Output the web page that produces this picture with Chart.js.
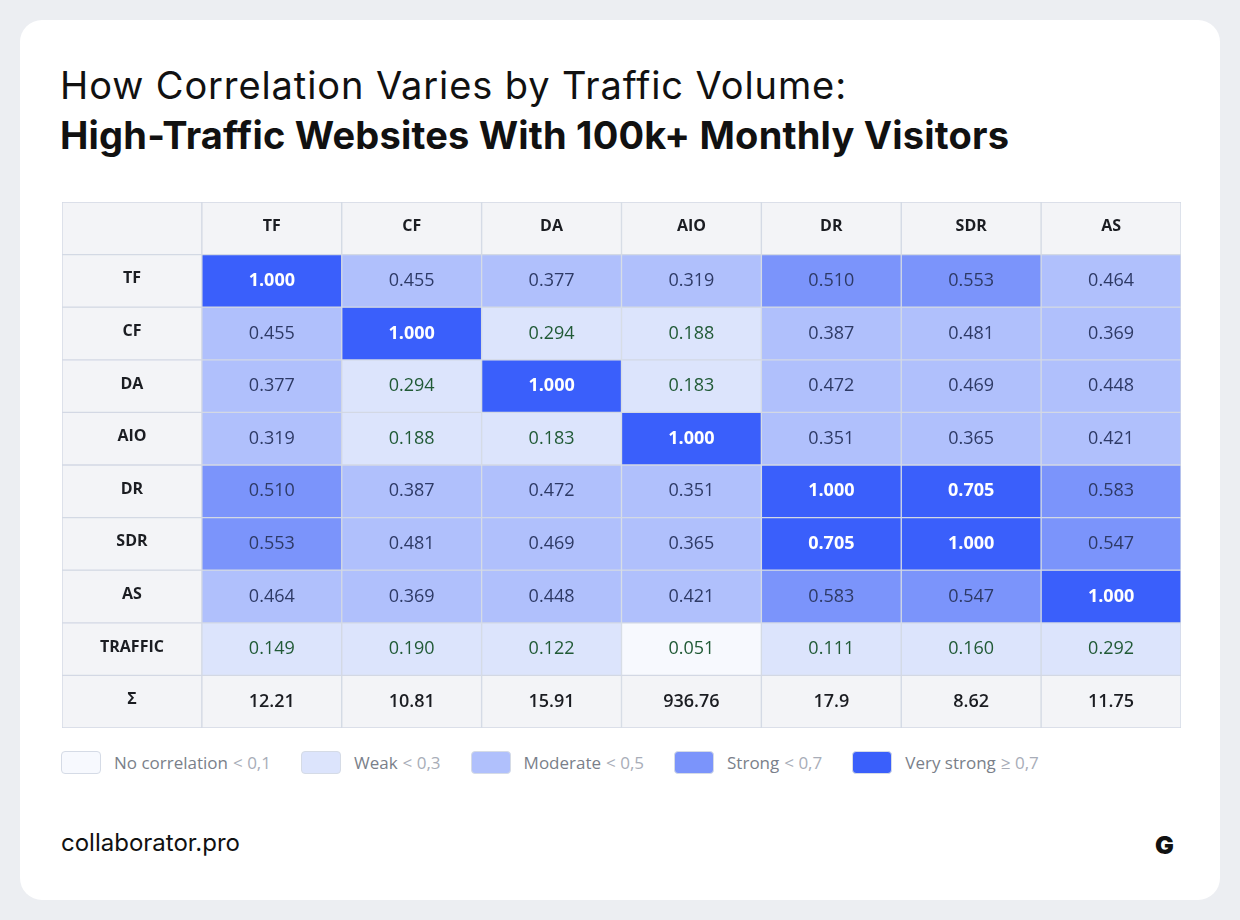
<!DOCTYPE html>
<html><head><meta charset="utf-8">
<script src="https://cdn.jsdelivr.net/npm/chart.js@4"></script>
<style>
body{margin:0;background:#eceef2;width:1240px;height:920px;overflow:hidden;font-family:"Open Sans",sans-serif}
#card{position:absolute;left:20px;top:20px;width:1200px;height:880px;background:#fff;border-radius:22px}
h1{position:absolute;left:60px;top:60px;margin:0;font:400 38px Inter,sans-serif;line-height:50px;color:#111}
h1 .a{letter-spacing:0.9px}
h1 b{font-weight:700;letter-spacing:0.2px}
#wrap{position:absolute;left:62px;top:202px;width:1119px;height:526px}
#legend{position:absolute;left:61px;top:751px;display:flex;font:17px "Open Sans",sans-serif;color:#7a7f8a}
.it{display:flex;align-items:center;margin-right:30px}
.sw{width:40px;height:23px;border-radius:4px;border:1px solid #d5dbe6;margin-right:13px;box-sizing:border-box}
.it span{color:#a8adb8;margin-left:5px}
#foot{position:absolute;left:61px;top:828px;font:400 24px Inter,sans-serif;color:#111}
#logo{position:absolute;left:1155px;top:830px;font:900 25px Inter,sans-serif;color:#111}
</style></head><body>
<div id="card"></div>
<h1><span class="a">How Correlation Varies by Traffic Volume:</span><br><b>High-Traffic Websites With 100k+ Monthly Visitors</b></h1>
<div id="wrap"><canvas id="c"></canvas></div>
<div id="legend"></div>
<div id="foot">collaborator.pro</div>
<div id="logo">G</div>
<script>
const metrics = ['TF', 'CF', 'DA', 'AIO', 'DR', 'SDR', 'AS'];
const rowLabels = ['TF', 'CF', 'DA', 'AIO', 'DR', 'SDR', 'AS', 'TRAFFIC'];
const corr = [
  [1.000, 0.455, 0.377, 0.319, 0.510, 0.553, 0.464],
  [0.455, 1.000, 0.294, 0.188, 0.387, 0.481, 0.369],
  [0.377, 0.294, 1.000, 0.183, 0.472, 0.469, 0.448],
  [0.319, 0.188, 0.183, 1.000, 0.351, 0.365, 0.421],
  [0.510, 0.387, 0.472, 0.351, 1.000, 0.705, 0.583],
  [0.553, 0.481, 0.469, 0.365, 0.705, 1.000, 0.547],
  [0.464, 0.369, 0.448, 0.421, 0.583, 0.547, 1.000],
  [0.149, 0.190, 0.122, 0.051, 0.111, 0.160, 0.292]
];
const sums = ['12.21', '10.81', '15.91', '936.76', '17.9', '8.62', '11.75'];
const levels = ['No correlation', 'Weak', 'Moderate', 'Strong', 'Very strong'];
const levelLimits = ['< 0,1', '< 0,3', '< 0,5', '< 0,7', '≥ 0,7'];
const levelColors = ['#f7f9fe', '#dce4fc', '#b0c0fc', '#7b94fb', '#3a5ffb'];
const headBg = '#f3f4f7';

function level(v){ return v < 0.1 ? 0 : v < 0.3 ? 1 : v < 0.5 ? 2 : v < 0.7 ? 3 : 4; }

// rows: header, corr rows, sum row
let rows = [];
rows.push({ texts: [''].concat(metrics), colors: Array(8).fill(headBg), kind: 'head' });
corr.forEach(function(r, i){
  rows.push({ texts: [rowLabels[i]].concat(r.map(v => v.toFixed(3))),
    colors: [headBg].concat(r.map(v => levelColors[level(v)])),
    lv: [-1].concat(r.map(level)), kind: 'corr' });
});
rows.push({ texts: ['Σ'].concat(sums), colors: Array(8).fill(headBg), kind: 'sum' });

const cols = [''].concat(metrics);
const datasets = rows.map(function(r, i){
  return {
    data: cols.map(() => [i, i + 1]),
    backgroundColor: r.colors,
    borderColor: '#d3d9e4',
    borderWidth: 1,
    borderSkipped: false,
    barPercentage: 1, categoryPercentage: 1, grouped: false,
    rowInfo: r
  };
});

const cellText = {
  id: 'cellText',
  afterDatasetsDraw(chart){
    const ctx = chart.ctx;
    ctx.save();
    ctx.textAlign = 'center'; ctx.textBaseline = 'middle';
    chart.data.datasets.forEach(function(ds, di){
      const r = ds.rowInfo;
      chart.getDatasetMeta(di).data.forEach(function(bar, ci){
        const t = r.texts[ci];
        if (!t) return;
        const y = (bar.y + bar.base) / 2;
        let font = '700 16px "Open Sans"', col = '#1b1d22';
        if (r.kind === 'corr' && ci > 0) {
          const lv = r.lv[ci];
          if (lv === 4) { font = '700 18px "Open Sans"'; col = '#ffffff'; }
          else if (lv <= 1) { font = '400 18px "Open Sans"'; col = '#215a36'; }
          else { font = '400 18px "Open Sans"'; col = '#2e3a66'; }
        } else if (r.kind === 'sum' && ci > 0) {
          font = '600 18px "Open Sans"';
        }
        ctx.font = font; ctx.fillStyle = col;
        ctx.fillText(t, bar.x, y - (ci === 0 || r.kind === 'head' ? 2 : 0));
      });
    });
    ctx.restore();
  }
};

new Chart(document.getElementById('c'), {
  type: 'bar',
  data: { labels: cols, datasets: datasets },
  options: {
    responsive: true, maintainAspectRatio: false, animation: false,
    layout: { padding: 0 },
    plugins: { legend: { display: false }, tooltip: { enabled: false } },
    scales: {
      x: { display: false, offset: true },
      y: { display: false, min: 0, max: rows.length, reverse: true }
    }
  },
  plugins: [cellText]
});

const lg = document.getElementById('legend');
levels.forEach(function(l, i){
  const d = document.createElement('div'); d.className = 'it';
  d.innerHTML = '<div class="sw" style="background:' + levelColors[i] + '"></div>' + l + '<span>' + levelLimits[i] + '</span>';
  lg.appendChild(d);
});
</script>
</body></html>
